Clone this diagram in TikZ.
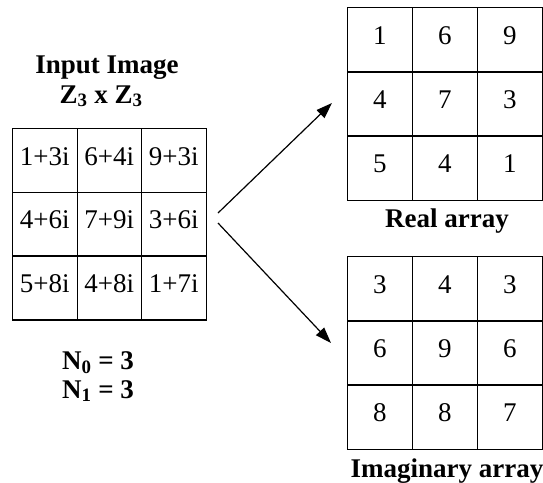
\documentclass[tikz,border=0pt]{standalone}
\usepackage{fontspec}
\setmainfont{Liberation Serif}
\usetikzlibrary{arrows.meta}
\begin{document}
\begin{tikzpicture}[x=1pt,y=-1pt,
  cell/.style={draw,line width=1.2pt,minimum width=64.5pt,minimum height=64pt,inner sep=0pt,anchor=north west,text height=0.9em,text depth=0pt,font=\fontsize{27}{30}\selectfont},
  lbl/.style={font=\bfseries\fontsize{27}{30}\selectfont,inner sep=0pt,anchor=base},
  arr/.style={line width=1.2pt,-{Triangle[length=16pt,width=11pt]}}]
\useasboundingbox (0,0) rectangle (543,482);
% left grid
\foreach \r/\a/\b/\c in {0/1+3i/6+4i/9+3i,1/4+6i/7+9i/3+6i,2/5+8i/4+8i/1+7i}{
  \node[cell] (L\r0) at (12,128+\r*63.7) {\a};
  \node[cell] (L\r1) at (76.5,128+\r*63.7) {\b};
  \node[cell] (L\r2) at (141,128+\r*63.7) {\c};
}
% real grid
\foreach \r/\a/\b/\c in {0/1/6/9,1/4/7/3,2/5/4/1}{
  \node[cell] (R\r0) at (347,7+\r*64.3) {\a};
  \node[cell] (R\r1) at (412,7+\r*64.3) {\b};
  \node[cell] (R\r2) at (477,7+\r*64.3) {\c};
}
% imaginary grid
\foreach \r/\a/\b/\c in {0/3/4/3,1/6/9/6,2/8/8/7}{
  \node[cell] (I\r0) at (347,256+\r*64.3) {\a};
  \node[cell] (I\r1) at (412,256+\r*64.3) {\b};
  \node[cell] (I\r2) at (477,256+\r*64.3) {\c};
}
\node[lbl] (t1) at (107,73) {Input Image};
\node[lbl] (t2) at (101,103) {Z\textsubscript{3} x Z\textsubscript{3}};
\node[lbl] (n0) at (98,369) {N\textsubscript{0} = 3};
\node[lbl] (n1) at (98,398) {N\textsubscript{1} = 3};
\node[lbl] (rl) at (447,227) {Real array};
\node[lbl] (il) at (447,477) {Imaginary array};
\coordinate (s1) at (218,213);
\coordinate (e1) at (332,103);
\coordinate (s2) at (218,223);
\coordinate (e2) at (331,343);
\draw[arr] (s1) -- (e1);
\draw[arr] (s2) -- (e2);
\end{tikzpicture}
\end{document}
